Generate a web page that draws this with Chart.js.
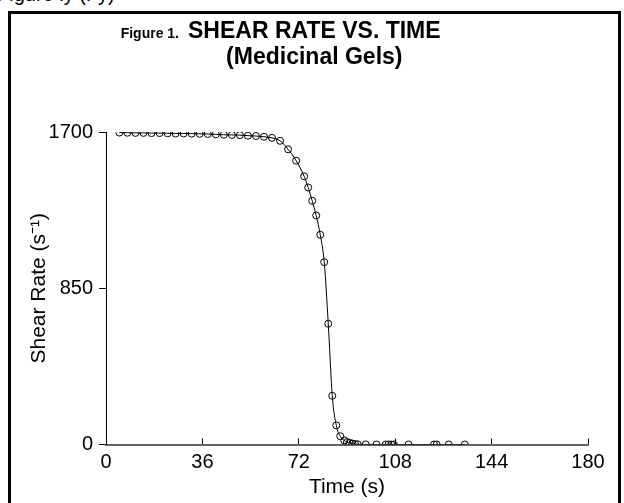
<!DOCTYPE html>
<html>
<head>
<meta charset="utf-8">
<script src="https://cdn.jsdelivr.net/npm/chart.js@4"></script>
<style>
  html, body { margin: 0; padding: 0; background: #fff; }
  body { width: 624px; height: 503px; position: relative; overflow: hidden; }
  #frame { position: absolute; left: 8px; top: 11px; width: 607px; height: 600px; border: 3px solid #000; }
  #cut { position: absolute; left: -3px; top: -17px; font: 20px "Liberation Sans", Arial, sans-serif; color: #000; }
  #wrap { position: absolute; left: 0; top: 0; width: 624px; height: 503px; }
</style>
</head>
<body>
<div id="cut">Figure ly (Fy)</div>
<div id="frame"></div>
<div id="wrap"><canvas id="myChart" width="624" height="503"></canvas></div>
<script>
// time (s)
const times = [5, 8, 11, 14, 17, 20, 23, 26, 29, 32, 35, 38, 41, 44, 47, 50, 53, 56, 59, 62, 65, 68, 71, 74,
  75.5, 77, 78.5, 80, 81.5, 83, 84.5, 86, 87.5, 89, 90, 91, 92, 93, 94, 97,
  101, 104.5, 105.5, 106.5, 107.5, 113, 122.5, 123.5, 128, 134];
// shear rate (1/s)
const shearRate = [1697, 1696, 1695, 1695, 1694, 1694, 1693, 1692, 1692, 1691, 1690, 1689, 1687, 1685, 1684, 1683, 1680, 1678, 1674, 1668, 1652, 1606, 1544, 1459,
  1398, 1326, 1246, 1141, 992, 657, 265, 104, 45, 22, 13, 9, 5, 2, 1, 0.5,
  0, 0, 0, 0, 0, 0, 0, 0, 0, 0];
const xTicks = [0, 36, 72, 108, 144, 180];
const yTicks = [0, 850, 1700];

const titleSmall = "Figure 1.";
const titleMain = "SHEAR RATE VS. TIME";
const titleSub = "(Medicinal Gels)";

const points = times.map((t, i) => ({ x: t, y: shearRate[i] }));

const titlePlugin = {
  id: "figTitle",
  afterDraw(chart) {
    const ctx = chart.ctx;
    ctx.save();
    ctx.fillStyle = "#000";
    ctx.textBaseline = "alphabetic";
    ctx.font = "bold 14px 'Liberation Sans', Arial, sans-serif";
    ctx.textAlign = "right";
    ctx.fillText(titleSmall, 179, 38);
    ctx.font = "bold 23px 'Liberation Sans', Arial, sans-serif";
    ctx.textAlign = "left";
    ctx.fillText(titleMain, 188, 38);
    const mainW = ctx.measureText(titleMain).width;
    ctx.textAlign = "center";
    ctx.fillText(titleSub, 188 + mainW / 2, 64);
    ctx.restore();
  }
};

const tickFont = { family: "'Liberation Sans', Arial, sans-serif", size: 20 };
const axisTitleFont = { family: "'Liberation Sans', Arial, sans-serif", size: 21 };

const config = {
  type: "line",
  data: {
    datasets: [
      {
        label: "Shear rate",
        data: points,
        borderColor: "#000",
        borderWidth: 1,
        backgroundColor: "rgba(0,0,0,0)",
        pointStyle: "circle",
        pointRadius: 3.5,
        pointBorderWidth: 1,
        pointBorderColor: "#000",
        pointBackgroundColor: "rgba(0,0,0,0)",
        cubicInterpolationMode: "monotone",
        fill: false,
      },
    ],
  },
  options: {
    responsive: false,
    animation: false,
    layout: { padding: { left: 0, right: 36, top: 132, bottom: 0 } },
    plugins: {
      legend: { display: false },
      tooltip: { enabled: false },
      title: { display: false },
    },
    scales: {
      x: {
        type: "linear",
        min: 0,
        max: 180,
        afterFit: (scale) => { scale.height = 58.5; },
        afterBuildTicks: (scale) => { scale.ticks = xTicks.map((v) => ({ value: v })); },
        grid: { drawOnChartArea: false, drawTicks: true, tickLength: -6, color: "#000", lineWidth: 1 },
        border: { display: true, color: "#666", width: 2 },
        ticks: { color: "#000", font: tickFont, padding: 11.5, maxRotation: 0, callback: (v) => String(v) },
        title: {
          display: true,
          text: "Time (s)",
          color: "#000",
          font: axisTitleFont,
          padding: { top: 3, bottom: 3 },
        },
      },
      y: {
        type: "linear",
        min: 0,
        max: 1700,
        afterFit: (scale) => { scale.width = 106; },
        afterBuildTicks: (scale) => { scale.ticks = yTicks.map((v) => ({ value: v })); },
        grid: { drawOnChartArea: false, drawTicks: true, tickLength: 7, color: "#000", lineWidth: 1 },
        border: { display: true, color: "#000", width: 1 },
        ticks: { color: "#000", font: tickFont, padding: 6, callback: (v) => String(v) },
        title: {
          display: true,
          text: "Shear Rate (s\u207B\u00B9)",
          color: "#000",
          font: axisTitleFont,
          padding: { top: 27, bottom: 27 },
        },
      },
    },
  },
  plugins: [titlePlugin],
};

const canvas = document.getElementById("myChart");
const myChart = new Chart(canvas, config);
</script>
</body>
</html>
